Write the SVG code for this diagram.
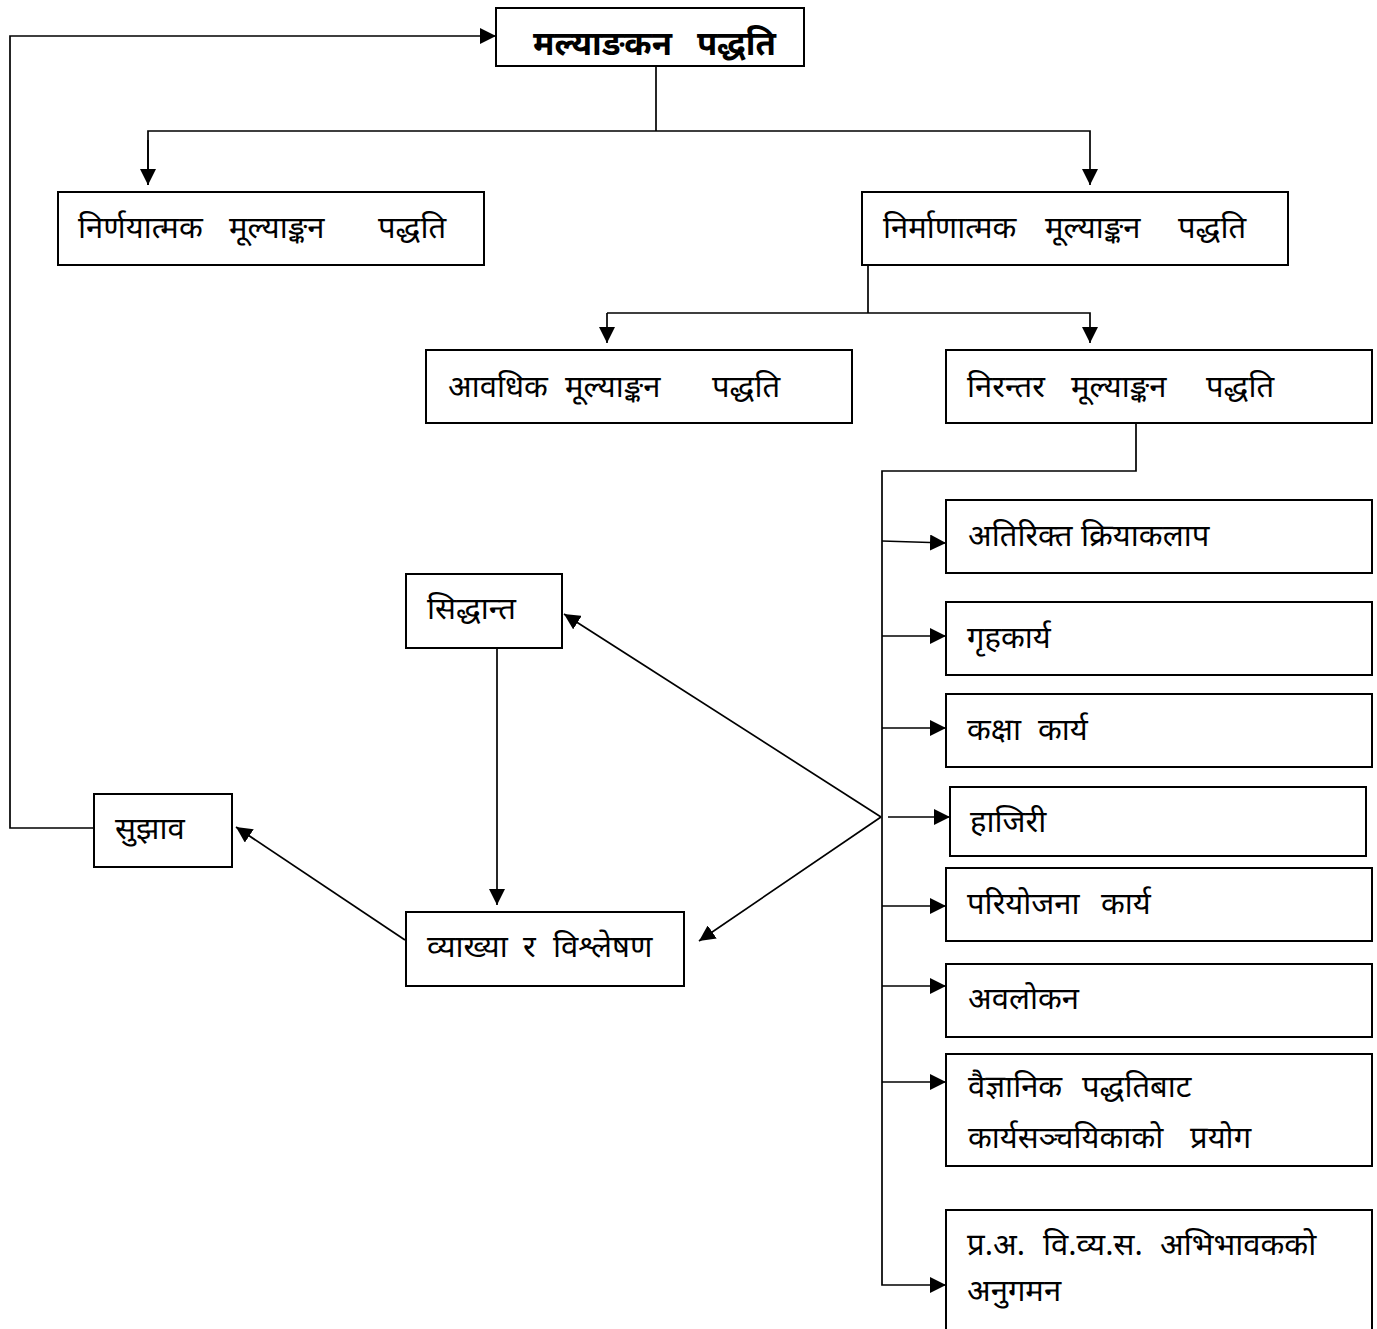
<svg xmlns="http://www.w3.org/2000/svg" width="1377" height="1329" viewBox="0 0 1377 1329">
<style>
.box{fill:#fff;stroke:#000;stroke-width:2}
.t{font-family:"Noto Sans Devanagari","Lohit Devanagari","Noto Sans","DejaVu Sans",sans-serif;font-size:31px;fill:#000}
.b{font-weight:bold;font-size:33px}
.c line,.c polyline{stroke:#000;stroke-width:1.7;fill:none}
</style>
<defs>
<marker id="ah" viewBox="0 0 10 10" refX="10" refY="5" markerWidth="16" markerHeight="16" markerUnits="userSpaceOnUse" orient="auto">
<path d="M0,0 L10,5 L0,10 z" fill="#000"/>
</marker>
</defs>
<rect width="1377" height="1329" fill="#fff"/>
<g class="c" id="connectors">
<polyline points="656,66 656,131"/>
<polyline points="148,185 148,131 1090,131 1090,185" marker-end="url(#ah)"/>
<line x1="148" y1="140" x2="148" y2="185" marker-end="url(#ah)"/>
<polyline points="94,828 10,828 10,36 496,36" marker-end="url(#ah)"/>
<polyline points="868,265 868,313"/>
<polyline points="607,313 1090,313 1090,343" marker-end="url(#ah)"/>
<line x1="607" y1="313" x2="607" y2="343" marker-end="url(#ah)"/>
<polyline points="1136,423 1136,471 882,471 882,1285 946,1285" marker-end="url(#ah)"/>
<line x1="882" y1="541" x2="946" y2="543" marker-end="url(#ah)"/>
<line x1="882" y1="636" x2="946" y2="636" marker-end="url(#ah)"/>
<line x1="882" y1="728" x2="946" y2="728" marker-end="url(#ah)"/>
<line x1="888" y1="817" x2="950" y2="817" marker-end="url(#ah)"/>
<line x1="882" y1="906" x2="946" y2="906" marker-end="url(#ah)"/>
<line x1="882" y1="986" x2="946" y2="986" marker-end="url(#ah)"/>
<line x1="882" y1="1082" x2="946" y2="1082" marker-end="url(#ah)"/>
<line x1="881" y1="817" x2="564" y2="614" marker-end="url(#ah)"/>
<line x1="881" y1="817" x2="699" y2="941" marker-end="url(#ah)"/>
<line x1="497" y1="648" x2="497" y2="905" marker-end="url(#ah)"/>
<line x1="405" y1="940" x2="236" y2="827" marker-end="url(#ah)"/>
</g>
<g id="n-root"><rect class="box" x="496" y="8" width="308" height="58"/><text class="t b" y="55"><tspan x="533">मल्याङकन</tspan> <tspan x="697">पद्धति</tspan></text></g>
<g id="n-nirnay"><rect class="box" x="58" y="192" width="426" height="73"/><text class="t" y="238"><tspan x="78">निर्णयात्मक</tspan> <tspan x="229">मूल्याङ्कन</tspan> <tspan x="378">पद्धति</tspan></text></g>
<g id="n-nirman"><rect class="box" x="862" y="192" width="426" height="73"/><text class="t" y="238"><tspan x="883">निर्माणात्मक</tspan> <tspan x="1045">मूल्याङ्कन</tspan> <tspan x="1178">पद्धति</tspan></text></g>
<g id="n-aavadhik"><rect class="box" x="426" y="350" width="426" height="73"/><text class="t" y="397"><tspan x="448">आवधिक</tspan> <tspan x="565">मूल्याङ्कन</tspan> <tspan x="712">पद्धति</tspan></text></g>
<g id="n-nirantar"><rect class="box" x="946" y="350" width="426" height="73"/><text class="t" y="397"><tspan x="967">निरन्तर</tspan> <tspan x="1071">मूल्याङ्कन</tspan> <tspan x="1206">पद्धति</tspan></text></g>
<g id="n-atirikt"><rect class="box" x="946" y="500" width="426" height="73"/><text class="t" y="546"><tspan x="968">अतिरिक्त</tspan> <tspan x="1081">क्रियाकलाप</tspan></text></g>
<g id="n-grihakarya"><rect class="box" x="946" y="602" width="426" height="73"/><text class="t" x="967" y="648">गृहकार्य</text></g>
<g id="n-kaksha"><rect class="box" x="946" y="694" width="426" height="73"/><text class="t" y="740"><tspan x="967">कक्षा</tspan> <tspan x="1038">कार्य</tspan></text></g>
<g id="n-hajiri"><rect class="box" x="950" y="787" width="416" height="69"/><text class="t" x="970" y="832">हाजिरी</text></g>
<g id="n-pariyojana"><rect class="box" x="946" y="868" width="426" height="73"/><text class="t" y="914"><tspan x="967">परियोजना</tspan> <tspan x="1101">कार्य</tspan></text></g>
<g id="n-avalokan"><rect class="box" x="946" y="964" width="426" height="73"/><text class="t" x="968" y="1009">अवलोकन</text></g>
<g id="n-vaigyanik"><rect class="box" x="946" y="1054" width="426" height="112"/><text class="t" y="1097"><tspan x="968">वैज्ञानिक</tspan> <tspan x="1082">पद्धतिबाट</tspan></text><text class="t" y="1148"><tspan x="968">कार्यसञ्चयिकाको</tspan> <tspan x="1190">प्रयोग</tspan></text></g>
<g id="n-anugaman"><rect class="box" x="946" y="1210" width="426" height="130"/><text class="t" y="1255"><tspan x="967">प्र.अ.</tspan> <tspan x="1043">वि.व्य.स.</tspan> <tspan x="1160">अभिभावकको</tspan></text><text class="t" x="967" y="1301">अनुगमन</text></g>
<g id="n-siddhanta"><rect class="box" x="406" y="574" width="156" height="74"/><text class="t" x="427" y="619">सिद्धान्त</text></g>
<g id="n-sujhav"><rect class="box" x="94" y="794" width="138" height="73"/><text class="t" x="115" y="839">सुझाव</text></g>
<g id="n-vyakhya"><rect class="box" x="406" y="912" width="278" height="74"/><text class="t" y="957"><tspan x="427">व्याख्या</tspan> <tspan x="523">र</tspan> <tspan x="553">विश्लेषण</tspan></text></g>
</svg>
